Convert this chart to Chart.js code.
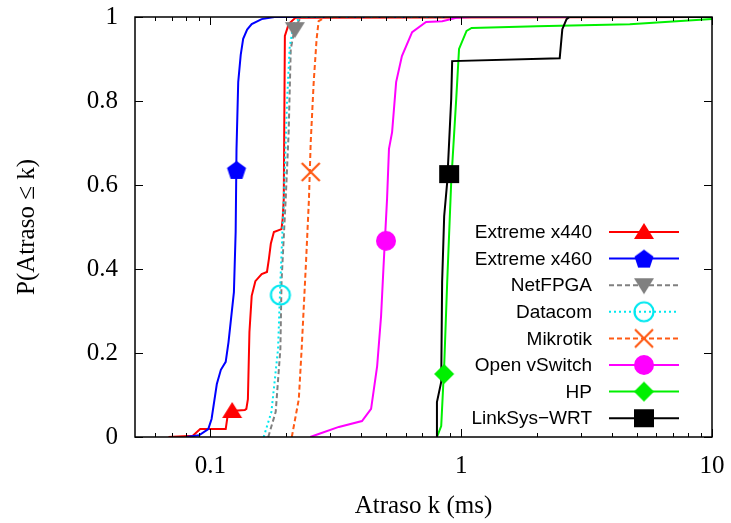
<!DOCTYPE html>
<html>
<head>
<meta charset="utf-8">
<script src="https://cdn.jsdelivr.net/npm/chart.js@4.4.0/dist/chart.umd.min.js"></script>
<style>
  html, body { margin: 0; padding: 0; background: #fff; }
  #wrap { width: 731px; height: 523px; }
</style>
</head>
<body>
<div id="wrap"><canvas id="cdf" width="731" height="523"></canvas></div>
<script>
// CDF of delay per switch
const x440X = [0.068, 0.085, 0.091, 0.115, 0.117, 0.121, 0.137, 0.139, 0.141, 0.143, 0.146, 0.151, 0.160, 0.168, 0.171, 0.174, 0.179, 0.192, 0.194, 0.196, 0.198, 0.205, 0.218, 10];
const x440Y = [0, 0.003, 0.019, 0.019, 0.05, 0.062, 0.064, 0.067, 0.09, 0.25, 0.336, 0.371, 0.388, 0.393, 0.424, 0.46, 0.488, 0.495, 0.519, 0.567, 0.955, 0.983, 0.998, 1];

const x460X = [0.080, 0.090, 0.098, 0.101, 0.106, 0.110, 0.115, 0.118, 0.124, 0.126, 0.127, 0.129, 0.132, 0.135, 0.140, 0.146, 0.160, 0.18, 10];
const x460Y = [0, 0.004, 0.019, 0.043, 0.126, 0.16, 0.179, 0.226, 0.345, 0.488, 0.686, 0.845, 0.91, 0.948, 0.97, 0.983, 0.995, 1, 1];

const netfpgaX = [0.170, 0.182, 0.190, 0.192, 0.1995, 0.205, 0.209, 0.217, 0.23, 10];
const netfpgaY = [0, 0.06, 0.21, 0.37, 0.567, 0.726, 0.924, 0.975, 1, 1];

const datacomX = [0.163, 0.175, 0.186, 0.190, 0.196, 0.202, 0.207, 0.215, 0.23, 10];
const datacomY = [0, 0.06, 0.21, 0.37, 0.567, 0.8, 0.93, 0.985, 1, 1];

const mikrotikX = [0.211, 0.225, 0.231, 0.240, 0.247, 0.251, 0.258, 0.265, 0.270, 0.288, 10];
const mikrotikY = [0, 0.09, 0.21, 0.407, 0.567, 0.702, 0.845, 0.948, 0.99, 1, 1];

const ovsX = [0.25, 0.27, 0.325, 0.402, 0.437, 0.462, 0.479, 0.49, 0.506, 0.515, 0.53, 0.55, 0.58, 0.637, 0.724, 0.84, 0.955, 1.1, 10];
const ovsY = [0, 0.007, 0.024, 0.038, 0.067, 0.169, 0.288, 0.407, 0.567, 0.686, 0.726, 0.845, 0.907, 0.964, 0.988, 0.99, 0.998, 1, 1];

const hpX = [0.80, 0.832, 0.855, 0.879, 0.912, 0.955, 0.98, 1.05, 1.1, 2, 4.7, 10];
const hpY = [0, 0.026, 0.169, 0.369, 0.607, 0.805, 0.924, 0.967, 0.974, 0.978, 0.983, 0.995];

const linksysX = [0.794, 0.80, 0.832, 0.839, 0.855, 0.879, 0.912, 0.92, 2.47, 2.53, 2.63, 2.7, 10];
const linksysY = [0, 0.083, 0.131, 0.369, 0.526, 0.607, 0.805, 0.895, 0.902, 0.971, 0.995, 1, 1];

// one marker per curve
const markerX = [0.122, 0.127, 0.217, 0.19, 0.251, 0.501, 0.855, 0.895];
const markerY = [0.062, 0.636, 0.971, 0.338, 0.631, 0.467, 0.15, 0.626];

const labels = ["Extreme x440", "Extreme x460", "NetFPGA", "Datacom", "Mikrotik", "Open vSwitch", "HP", "LinkSys\u2212WRT"];
const xMajor = [0.1, 1, 10];
const xMinor = [0.06, 0.07, 0.08, 0.09, 0.2, 0.3, 0.4, 0.5, 0.6, 0.7, 0.8, 0.9, 2, 3, 4, 5, 6, 7, 8, 9];
const yTicks = [0, 0.2, 0.4, 0.6, 0.8, 1];

const xs = [x440X, x460X, netfpgaX, datacomX, mikrotikX, ovsX, hpX, linksysX];
const ys = [x440Y, x460Y, netfpgaY, datacomY, mikrotikY, ovsY, hpY, linksysY];
const colors = ["#ff0000", "#0000ff", "#808080", "#00e8f0", "#ff5a14", "#ff00ff", "#00f000", "#000000"];
const dashes = [[], [], [5, 3], [2, 3], [5, 3], [], [], []];
const markers = ["triangle", "pentagon", "triangleDown", "circleOpen", "cross", "circle", "diamond", "square"];

const serif = "'Liberation Serif', 'Times New Roman', serif";

function makeMarker(kind, color) {
    const c = document.createElement("canvas");
    c.width = 26; c.height = 26;
    const g = c.getContext("2d");
    g.translate(13, 13);
    g.fillStyle = color;
    g.strokeStyle = color;
    g.lineWidth = 2.2;
    g.beginPath();
    if (kind === "triangle") {
        g.moveTo(0, -9); g.lineTo(10, 7); g.lineTo(-10, 7); g.closePath(); g.fill();
    } else if (kind === "triangleDown") {
        g.moveTo(0, 9); g.lineTo(10, -7); g.lineTo(-10, -7); g.closePath(); g.fill();
    } else if (kind === "pentagon") {
        for (let i = 0; i < 5; i++) {
            const a = -Math.PI / 2 + i * 2 * Math.PI / 5;
            const px = 10 * Math.cos(a), py = 10 * Math.sin(a) + 1;
            if (i === 0) g.moveTo(px, py); else g.lineTo(px, py);
        }
        g.closePath(); g.fill();
    } else if (kind === "circleOpen") {
        g.arc(0, 0, 9.5, 0, Math.PI * 2); g.stroke();
    } else if (kind === "circle") {
        g.arc(0, 0, 10, 0, Math.PI * 2); g.fill();
    } else if (kind === "cross") {
        g.moveTo(-9, -9); g.lineTo(9, 9); g.moveTo(9, -9); g.lineTo(-9, 9); g.stroke();
    } else if (kind === "diamond") {
        g.moveTo(0, -10); g.lineTo(10, 0); g.lineTo(0, 10); g.lineTo(-10, 0); g.closePath(); g.fill();
    } else if (kind === "square") {
        g.fillRect(-10, -9, 20, 18);
    }
    return c;
}

const markerImgs = markers.map((m, i) => makeMarker(m, colors[i]));

const datasets = [];
labels.forEach((lab, i) => {
    datasets.push({
        label: lab,
        data: xs[i].map((x, j) => ({ x: x, y: ys[i][j] })),
        borderColor: colors[i],
        borderWidth: 2,
        borderDash: dashes[i],
        pointRadius: 0,
        fill: false,
        tension: 0,
        order: 20 - i
    });
});
labels.forEach((lab, i) => {
    datasets.push({
        label: lab + " marker",
        data: [{ x: markerX[i], y: markerY[i] }],
        showLine: false,
        pointStyle: markerImgs[i],
        pointRadius: 10,
        order: i
    });
});

// gnuplot style frame with inward ticks on all four sides
const framePlugin = {
    id: "frame",
    afterDatasetsDraw(chart) {
        const { ctx, chartArea: a, scales: { x, y } } = chart;
        ctx.save();
        ctx.strokeStyle = "#000";
        ctx.lineWidth = 1;
        ctx.beginPath();
        const vt = (v, len) => {
            const px = Math.round(x.getPixelForValue(v)) + 0.5;
            ctx.moveTo(px, a.bottom); ctx.lineTo(px, a.bottom - len);
            ctx.moveTo(px, a.top); ctx.lineTo(px, a.top + len);
        };
        xMajor.forEach(v => vt(v, 8));
        xMinor.forEach(v => vt(v, 4));
        yTicks.forEach(v => {
            const py = Math.round(y.getPixelForValue(v)) + 0.5;
            ctx.moveTo(a.left, py); ctx.lineTo(a.left + 8, py);
            ctx.moveTo(a.right, py); ctx.lineTo(a.right - 8, py);
        });
        ctx.stroke();
        ctx.lineWidth = 1.5;
        ctx.strokeRect(a.left, a.top, a.right - a.left, a.bottom - a.top);
        ctx.restore();
    }
};

const legendPlugin = {
    id: "gpLegend",
    afterDraw(chart) {
        const { ctx, chartArea: a } = chart;
        ctx.save();
        ctx.font = "19px 'Liberation Sans', Arial, sans-serif";
        ctx.fillStyle = "#000";
        ctx.textAlign = "right";
        ctx.textBaseline = "middle";
        labels.forEach((lab, i) => {
            const yy = a.top + 215 + i * 26.6;
            ctx.fillText(lab, a.right - 120, yy + 1);
            ctx.strokeStyle = colors[i];
            ctx.lineWidth = 2;
            ctx.setLineDash(dashes[i]);
            ctx.beginPath();
            ctx.moveTo(a.right - 103, yy);
            ctx.lineTo(a.right - 33, yy);
            ctx.stroke();
            ctx.setLineDash([]);
            ctx.drawImage(markerImgs[i], a.right - 68 - 13, yy - 13);
        });
        ctx.restore();
    }
};

// keep the plot box exactly where layout.padding puts it
function noEdgePadding(sc) {
    sc.paddingTop = 0; sc.paddingBottom = 0; sc.paddingLeft = 0; sc.paddingRight = 0;
}

new Chart(document.getElementById("cdf").getContext("2d"), {
    type: "line",
    data: { datasets: datasets },
    options: {
        responsive: false,
        animation: false,
        events: [],
        layout: { padding: { left: 0, top: 17, right: 19, bottom: 0 } },
        plugins: { legend: { display: false }, tooltip: { enabled: false } },
        scales: {
            x: {
                type: "logarithmic",
                min: 0.05,
                max: 10,
                grid: { display: false, drawTicks: false },
                border: { display: false },
                afterBuildTicks: sc => { sc.ticks = xMajor.map(v => ({ value: v })); },
                afterFit: sc => { sc.height = 86; noEdgePadding(sc); },
                ticks: {
                    autoSkip: false,
                    maxRotation: 0,
                    padding: 14,
                    color: "#000",
                    font: { family: serif, size: 25 },
                    callback: v => String(v)
                },
                title: {
                    display: true,
                    text: "Atraso k (ms)",
                    color: "#000",
                    font: { family: serif, size: 25 },
                    padding: { top: 0, bottom: 2 }
                }
            },
            y: {
                min: 0,
                max: 1,
                grid: { display: false, drawTicks: false },
                border: { display: false },
                afterBuildTicks: sc => { sc.ticks = yTicks.map(v => ({ value: v })); },
                afterFit: sc => { sc.width = 135; noEdgePadding(sc); },
                ticks: {
                    padding: 17,
                    color: "#000",
                    font: { family: serif, size: 25 },
                    callback: v => String(+v.toFixed(1))
                },
                title: {
                    display: true,
                    text: "P(Atraso \u2264 k)",
                    color: "#000",
                    font: { family: serif, size: 25 },
                    padding: { top: 12, bottom: 0 }
                }
            }
        }
    },
    plugins: [framePlugin, legendPlugin]
});
</script>
</body>
</html>
